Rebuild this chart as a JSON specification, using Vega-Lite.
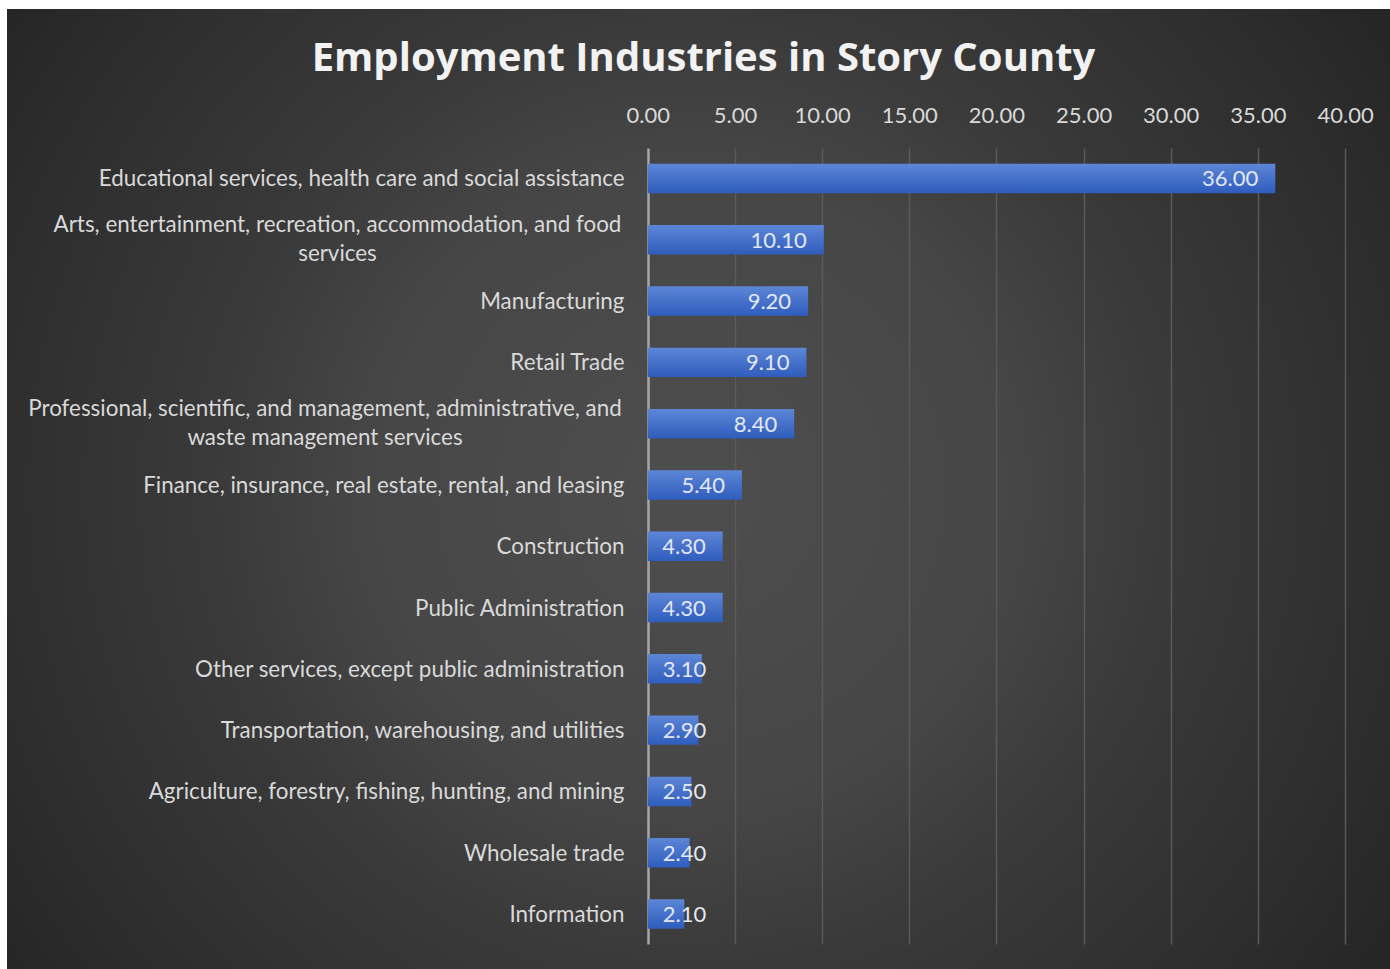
{
  "$schema": "https://vega.github.io/schema/vega-lite/v6.json",
  "width": 1383,
  "height": 960,
  "autosize": {"type": "none"},
  "padding": {"left": 7, "top": 9, "right": 0, "bottom": 0},
  "background": "#ffffff",
  "view": {
    "stroke": null,
    "fill": {
      "gradient": "radial",
      "x1": 0.494, "y1": 0.5, "r1": 0,
      "x2": 0.494, "y2": 0.5, "r2": 0.6,
      "stops": [
        {"offset": 0, "color": "#4e4e4e"},
        {"offset": 0.39, "color": "#464646"},
        {"offset": 0.57, "color": "#3a3a3a"},
        {"offset": 0.88, "color": "#2c2c2c"},
        {"offset": 1, "color": "#262626"}
      ]
    }
  },
  "title": {
    "text": "Employment Industries in Story County",
    "font": "Open Sans",
    "fontSize": 40,
    "fontWeight": "bold",
    "color": "#f2f2f2",
    "anchor": "middle",
    "frame": "group",
    "baseline": "alphabetic",
    "offset": -102,
    "dx": 5
  },
  "data": {
    "values": [
      {"industry": "Educational services, health care and social assistance", "value": 36.0},
      {"industry": "Arts, entertainment, recreation, accommodation, and food services", "value": 10.1},
      {"industry": "Manufacturing", "value": 9.2},
      {"industry": "Retail Trade", "value": 9.1},
      {"industry": "Professional, scientific, and management, administrative, and waste management services", "value": 8.4},
      {"industry": "Finance, insurance, real estate, rental, and leasing", "value": 5.4},
      {"industry": "Construction", "value": 4.3},
      {"industry": "Public Administration", "value": 4.3},
      {"industry": "Other services, except public administration", "value": 3.1},
      {"industry": "Transportation, warehousing, and utilities", "value": 2.9},
      {"industry": "Agriculture, forestry, fishing, hunting, and mining", "value": 2.5},
      {"industry": "Wholesale trade", "value": 2.4},
      {"industry": "Information", "value": 2.1}
    ]
  },
  "encoding": {
    "y": {
      "field": "industry",
      "type": "nominal",
      "sort": null,
      "scale": {"range": [138.85, 935.65], "paddingInner": 0.52, "paddingOuter": 0.26},
      "axis": {
        "orient": "left",
        "offset": -640.8,
        "domain": false,
        "ticks": false,
        "grid": false,
        "title": null,
        "labelFont": "Lato",
        "labelFontSize": 22.4,
        "labelColor": "#d9d9d9",
        "labelLimit": 0,
        "labelLineHeight": 29,
        "labelBaseline": "middle",
        "labelOverlap": false,
        "labelAlign": {
          "condition": {"test": "length(datum.value) > 62", "value": "center"},
          "value": "right"
        },
        "labelOffset": {
          "condition": {"test": "length(datum.value) > 62", "value": -14.5},
          "value": 1
        },
        "labelPadding": {
          "condition": [
            {"test": "indexof(datum.value, 'Arts') == 0", "value": 310.8},
            {"test": "indexof(datum.value, 'Professional') == 0", "value": 323.3}
          ],
          "value": 23.8
        },
        "labelExpr": "datum.value == 'Arts, entertainment, recreation, accommodation, and food services' ? ['Arts, entertainment, recreation, accommodation, and food', 'services'] : datum.value == 'Professional, scientific, and management, administrative, and waste management services' ? ['Professional, scientific, and management, administrative, and', 'waste management services'] : datum.label"
      }
    },
    "x": {
      "field": "value",
      "type": "quantitative",
      "scale": {"domain": [-36.76, 42.58], "nice": false, "zero": false},
      "axis": {
        "orient": "top",
        "offset": -139,
        "values": [0, 5, 10, 15, 20, 25, 30, 35, 40],
        "format": ".2f",
        "domain": false,
        "grid": false,
        "ticks": true,
        "tickSize": -796,
        "tickColor": {"condition": {"test": "datum.value === 0", "value": "#a6a6a6"}, "value": "#5a5a5a"},
        "tickWidth": {"condition": {"test": "datum.value === 0", "value": 2.5}, "value": 1.5},
        "title": null,
        "labelFont": "Lato",
        "labelFontSize": 22,
        "labelColor": "#d9d9d9",
        "labelPadding": 829,
        "labelBaseline": "middle",
        "labelFlush": false,
        "labelBound": false,
        "labelOverlap": false
      }
    }
  },
  "layer": [
    {
      "mark": {
        "type": "bar",
        "color": {
          "gradient": "linear",
          "x1": 0, "y1": 0, "x2": 0, "y2": 1,
          "stops": [
            {"offset": 0, "color": "#5d86d6"},
            {"offset": 1, "color": "#2f5dbd"}
          ]
        }
      },
      "encoding": {
        "x2": {"datum": 0}
      }
    },
    {
      "transform": [{"filter": "datum.value >= 4"}],
      "mark": {"type": "text", "align": "right", "baseline": "middle", "dx": -17, "dy": 1, "font": "Lato", "fontSize": 22, "color": "#e3e7f1"},
      "encoding": {
        "text": {"field": "value", "type": "quantitative", "format": ".2f"}
      }
    },
    {
      "transform": [{"filter": "datum.value < 4"}],
      "mark": {"type": "text", "align": "left", "baseline": "middle", "dx": 15, "dy": 1, "font": "Lato", "fontSize": 22, "color": "#e3e7f1"},
      "encoding": {
        "x": {"datum": 0, "type": "quantitative"},
        "text": {"field": "value", "type": "quantitative", "format": ".2f"}
      }
    }
  ]
}
